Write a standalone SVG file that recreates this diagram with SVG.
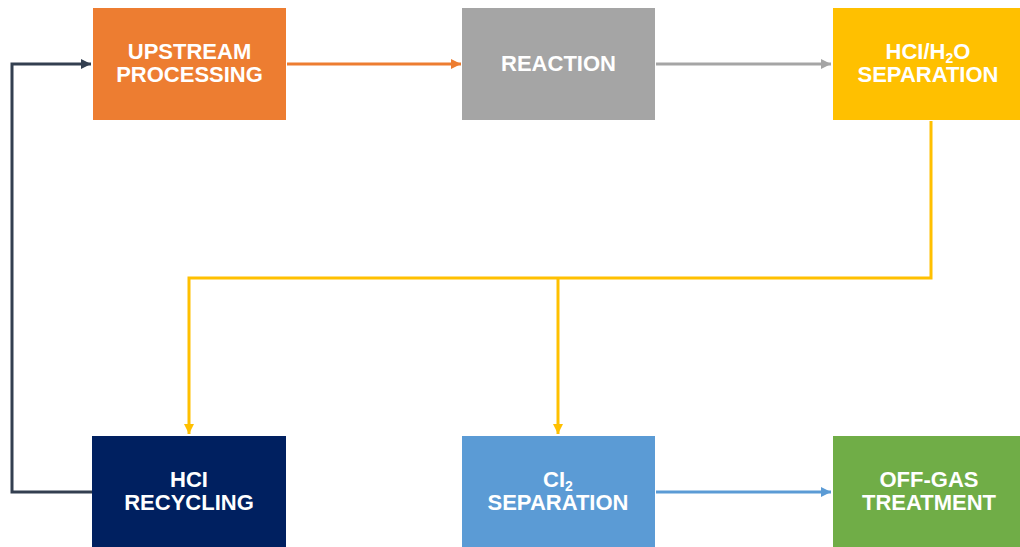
<svg xmlns="http://www.w3.org/2000/svg" width="1020" height="547" viewBox="0 0 1020 547">
<defs>
<style>
.lbl{font-family:"Liberation Sans",Arial,sans-serif;font-weight:bold;font-size:22px;fill:#fff;text-anchor:middle}
.sub{font-size:14px}
.c{fill:none;stroke-width:3}
</style>
<marker id="aO" markerUnits="userSpaceOnUse" markerWidth="12" markerHeight="12" refX="10" refY="5" orient="auto"><path d="M0,0 L10,5 L0,10 Z" fill="#ED7D31"/></marker>
<marker id="aG" markerUnits="userSpaceOnUse" markerWidth="12" markerHeight="12" refX="10" refY="5" orient="auto"><path d="M0,0 L10,5 L0,10 Z" fill="#A5A5A5"/></marker>
<marker id="aY" markerUnits="userSpaceOnUse" markerWidth="12" markerHeight="12" refX="10" refY="5" orient="auto"><path d="M0,0 L10,5 L0,10 Z" fill="#FFC000"/></marker>
<marker id="aD" markerUnits="userSpaceOnUse" markerWidth="12" markerHeight="12" refX="10" refY="5" orient="auto"><path d="M0,0 L10,5 L0,10 Z" fill="#333F50"/></marker>
<marker id="aB" markerUnits="userSpaceOnUse" markerWidth="12" markerHeight="12" refX="10" refY="5" orient="auto"><path d="M0,0 L10,5 L0,10 Z" fill="#5B9BD5"/></marker>
</defs>
<rect width="1020" height="547" fill="#fff"/>
<g id="connectors">
<path class="c" stroke="#ED7D31" d="M287,64 H461" marker-end="url(#aO)"/>
<path class="c" stroke="#A5A5A5" d="M656,64 H831" marker-end="url(#aG)"/>
<path class="c" stroke="#FFC000" d="M931,121 V278 H189 V434" marker-end="url(#aY)"/>
<path class="c" stroke="#FFC000" d="M558,278 V434" marker-end="url(#aY)"/>
<path class="c" stroke="#333F50" d="M92,492 H12 V64 H91" marker-end="url(#aD)"/>
<path class="c" stroke="#5B9BD5" d="M656,492 H831" marker-end="url(#aB)"/>
</g>
<g id="upstream">
<rect x="93" y="8" width="193" height="112" fill="#ED7D31"/>
<text class="lbl" x="189.5" y="59">UPSTREAM</text>
<text class="lbl" x="189.5" y="82">PROCESSING</text>
</g>
<g id="reaction">
<rect x="462" y="8" width="193" height="112" fill="#A5A5A5"/>
<text class="lbl" x="558.5" y="71">REACTION</text>
</g>
<g id="hcl-h2o-separation">
<rect x="833" y="8" width="187" height="112" fill="#FFC000"/>
<text class="lbl" x="928" y="59">HCI/H<tspan class="sub" dy="4">2</tspan><tspan dy="-4">O</tspan></text>
<text class="lbl" x="928" y="82">SEPARATION</text>
</g>
<g id="hcl-recycling">
<rect x="92" y="436" width="194" height="111" fill="#002060"/>
<text class="lbl" x="189" y="487">HCI</text>
<text class="lbl" x="189" y="510">RECYCLING</text>
</g>
<g id="cl2-separation">
<rect x="462" y="436" width="193" height="111" fill="#5B9BD5"/>
<text class="lbl" x="558" y="487">CI<tspan class="sub" dy="4">2</tspan></text>
<text class="lbl" x="558" y="510">SEPARATION</text>
</g>
<g id="off-gas-treatment">
<rect x="833" y="436" width="187" height="111" fill="#70AD47"/>
<text class="lbl" x="929" y="487">OFF-GAS</text>
<text class="lbl" x="929" y="510">TREATMENT</text>
</g>
</svg>
